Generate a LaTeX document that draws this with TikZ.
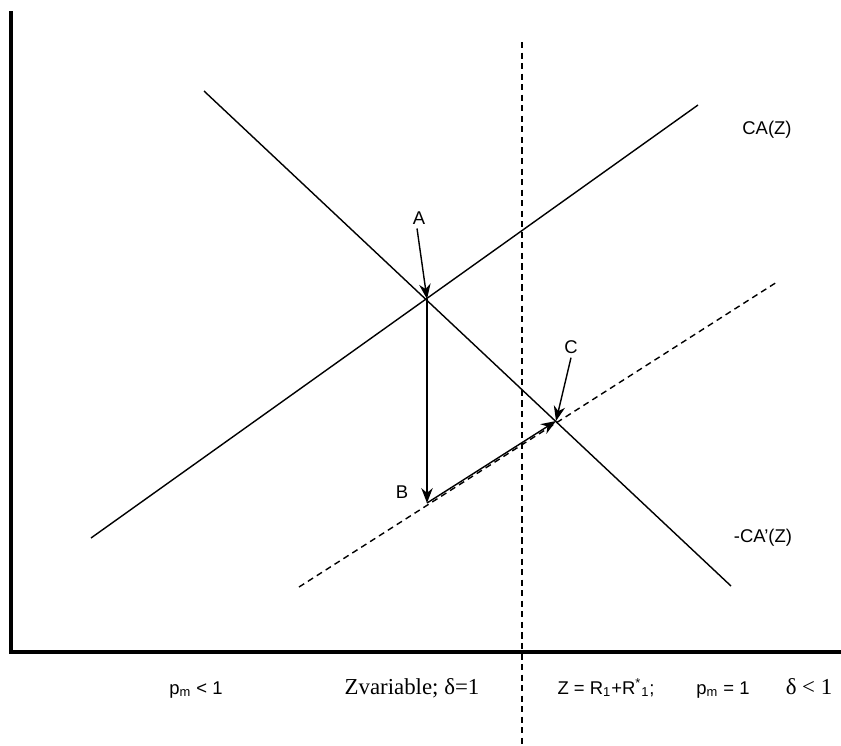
\documentclass[tikz,border=0pt]{standalone}
\usepackage{fontspec}
\setmainfont{Liberation Sans}
\newfontfamily\timesfont{Liberation Serif}
\usetikzlibrary{arrows.meta,positioning,calc}

\begin{document}
\begin{tikzpicture}[x=0.02cm,y=-0.02cm,
    font=\fontsize{10.5}{12}\selectfont,
    curve/.style={line width=0.8pt},
    guide/.style={line width=0.8pt, dash pattern=on 3.5pt off 2.5pt},
    move/.style={line width=0.8pt, -{Stealth[length=8.5pt,width=6.5pt]}},
    lbl/.style={inner sep=1pt}]
    \useasboundingbox (0,0) rectangle (841,745);

    % Axes
    \draw[line width=2.3pt] (11,11) -- (11,652) -- (841,652);

    % Curves
    \coordinate (caL) at (91,538);
    \coordinate (caR) at (698,105);
    \coordinate (cpL) at (204,91);
    \coordinate (cpR) at (731,586);
    \coordinate (dL) at (299,587);
    \coordinate (dR) at (777,282);
    \draw[curve] (caL) -- (caR);
    \draw[curve] (cpL) -- (cpR);
    \draw[guide] (dL) -- (dR);
    \node[lbl] (caZ) at (767,130) {CA(Z)};
    \node[lbl] (cpZ) at (763,538) {-CA'(Z)};

    % Boundary
    \coordinate (vT) at (522,42);
    \coordinate (vB) at (522,745);
    \draw[guide] (vT) -- (vB);

    % Points
    \coordinate (A) at (427,299);
    \coordinate (B) at (427,503);
    \coordinate (C) at (556,421);
    \node[lbl] (labA) at (419,218) {A};
    \node[lbl] (labB) at (402,492) {B};
    \node[lbl] (labC) at (571,347) {C};

    % Moves
    \draw[move] (labA.south) ++(-2,2) -- (A);
    \draw[move] (A) -- (B);
    \draw[move] (B) -- (C);
    \draw[move] (labC.south) ++(0,2) -- (C);

    % Regimes
    \node[lbl, anchor=base] (pm1) at (196,694) {p\textsubscript{m} < 1};
    \node[lbl, anchor=base] (zvar) at (412,694) {\timesfont\fontsize{13}{15}\selectfont Zvariable; δ=1};
    \node[lbl, anchor=base] (zfix) at (606,694) {Z = R\textsubscript{1}+R\textsuperscript{*}\textsubscript{1};};
    \node[lbl, anchor=base] (pm2) at (723,694) {p\textsubscript{m} = 1};
    \node[lbl, anchor=base] (dl) at (809,694) {\timesfont\fontsize{13}{15}\selectfont δ < 1};
\end{tikzpicture}
\end{document}
